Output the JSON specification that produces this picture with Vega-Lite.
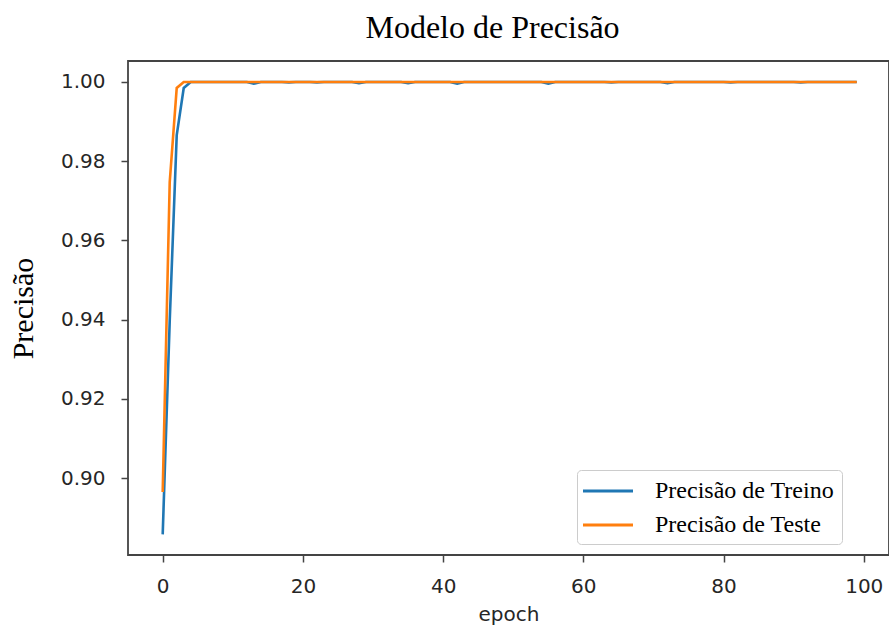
{
  "$schema": "https://vega.github.io/schema/vega-lite/v6.json",
  "width": 761,
  "height": 494,
  "autosize": {"type": "none"},
  "padding": {"left": 128, "top": 61, "right": 0, "bottom": 75},
  "background": "white",
  "title": {
    "text": "Modelo de Precisão",
    "font": "Liberation Serif",
    "fontSize": 32,
    "fontWeight": "normal",
    "color": "black",
    "anchor": "middle",
    "dx": -16,
    "offset": 16
  },
  "config": {
    "view": {"stroke": "#444", "strokeWidth": 1.8},
    "axis": {
      "grid": false,
      "domain": false,
      "tickColor": "#444",
      "tickSize": 7,
      "tickWidth": 1.5,
      "labelFont": "DejaVu Sans",
      "labelFontSize": 20,
      "labelColor": "#262626",
      "titleColor": "#262626"
    }
  },
  "data": {
    "values": [
      {"epoch": 0, "train": 0.8858, "test": 0.8965},
      {"epoch": 1, "train": 0.9396, "test": 0.9747},
      {"epoch": 2, "train": 0.9866, "test": 0.9985},
      {"epoch": 3, "train": 0.9985, "test": 1.0},
      {"epoch": 4, "train": 1.0, "test": 1.0},
      {"epoch": 5, "train": 1.0, "test": 1.0},
      {"epoch": 6, "train": 1.0, "test": 1.0},
      {"epoch": 7, "train": 1.0, "test": 1.0},
      {"epoch": 8, "train": 1.0, "test": 1.0},
      {"epoch": 9, "train": 1.0, "test": 1.0},
      {"epoch": 10, "train": 1.0, "test": 1.0},
      {"epoch": 11, "train": 1.0, "test": 1.0},
      {"epoch": 12, "train": 1.0, "test": 1.0},
      {"epoch": 13, "train": 0.9996, "test": 1.0},
      {"epoch": 14, "train": 1.0, "test": 1.0},
      {"epoch": 15, "train": 1.0, "test": 1.0},
      {"epoch": 16, "train": 1.0, "test": 1.0},
      {"epoch": 17, "train": 1.0, "test": 1.0},
      {"epoch": 18, "train": 0.9999, "test": 1.0},
      {"epoch": 19, "train": 1.0, "test": 1.0},
      {"epoch": 20, "train": 1.0, "test": 1.0},
      {"epoch": 21, "train": 1.0, "test": 1.0},
      {"epoch": 22, "train": 0.9999, "test": 1.0},
      {"epoch": 23, "train": 1.0, "test": 1.0},
      {"epoch": 24, "train": 1.0, "test": 1.0},
      {"epoch": 25, "train": 1.0, "test": 1.0},
      {"epoch": 26, "train": 1.0, "test": 1.0},
      {"epoch": 27, "train": 1.0, "test": 1.0},
      {"epoch": 28, "train": 0.9997, "test": 1.0},
      {"epoch": 29, "train": 1.0, "test": 1.0},
      {"epoch": 30, "train": 1.0, "test": 1.0},
      {"epoch": 31, "train": 1.0, "test": 1.0},
      {"epoch": 32, "train": 1.0, "test": 1.0},
      {"epoch": 33, "train": 1.0, "test": 1.0},
      {"epoch": 34, "train": 1.0, "test": 1.0},
      {"epoch": 35, "train": 0.9997, "test": 1.0},
      {"epoch": 36, "train": 1.0, "test": 1.0},
      {"epoch": 37, "train": 1.0, "test": 1.0},
      {"epoch": 38, "train": 1.0, "test": 1.0},
      {"epoch": 39, "train": 1.0, "test": 1.0},
      {"epoch": 40, "train": 1.0, "test": 1.0},
      {"epoch": 41, "train": 1.0, "test": 1.0},
      {"epoch": 42, "train": 0.9996, "test": 1.0},
      {"epoch": 43, "train": 1.0, "test": 1.0},
      {"epoch": 44, "train": 1.0, "test": 1.0},
      {"epoch": 45, "train": 1.0, "test": 1.0},
      {"epoch": 46, "train": 1.0, "test": 1.0},
      {"epoch": 47, "train": 1.0, "test": 1.0},
      {"epoch": 48, "train": 1.0, "test": 1.0},
      {"epoch": 49, "train": 1.0, "test": 1.0},
      {"epoch": 50, "train": 1.0, "test": 1.0},
      {"epoch": 51, "train": 1.0, "test": 1.0},
      {"epoch": 52, "train": 1.0, "test": 1.0},
      {"epoch": 53, "train": 1.0, "test": 1.0},
      {"epoch": 54, "train": 1.0, "test": 1.0},
      {"epoch": 55, "train": 0.9996, "test": 1.0},
      {"epoch": 56, "train": 1.0, "test": 1.0},
      {"epoch": 57, "train": 1.0, "test": 1.0},
      {"epoch": 58, "train": 1.0, "test": 1.0},
      {"epoch": 59, "train": 1.0, "test": 1.0},
      {"epoch": 60, "train": 1.0, "test": 1.0},
      {"epoch": 61, "train": 1.0, "test": 1.0},
      {"epoch": 62, "train": 1.0, "test": 1.0},
      {"epoch": 63, "train": 1.0, "test": 1.0},
      {"epoch": 64, "train": 0.9999, "test": 1.0},
      {"epoch": 65, "train": 1.0, "test": 1.0},
      {"epoch": 66, "train": 1.0, "test": 1.0},
      {"epoch": 67, "train": 1.0, "test": 1.0},
      {"epoch": 68, "train": 1.0, "test": 1.0},
      {"epoch": 69, "train": 1.0, "test": 1.0},
      {"epoch": 70, "train": 1.0, "test": 1.0},
      {"epoch": 71, "train": 1.0, "test": 1.0},
      {"epoch": 72, "train": 0.9997, "test": 1.0},
      {"epoch": 73, "train": 1.0, "test": 1.0},
      {"epoch": 74, "train": 1.0, "test": 1.0},
      {"epoch": 75, "train": 1.0, "test": 1.0},
      {"epoch": 76, "train": 1.0, "test": 1.0},
      {"epoch": 77, "train": 1.0, "test": 1.0},
      {"epoch": 78, "train": 1.0, "test": 1.0},
      {"epoch": 79, "train": 1.0, "test": 1.0},
      {"epoch": 80, "train": 1.0, "test": 1.0},
      {"epoch": 81, "train": 0.9999, "test": 1.0},
      {"epoch": 82, "train": 1.0, "test": 1.0},
      {"epoch": 83, "train": 1.0, "test": 1.0},
      {"epoch": 84, "train": 1.0, "test": 1.0},
      {"epoch": 85, "train": 1.0, "test": 1.0},
      {"epoch": 86, "train": 1.0, "test": 1.0},
      {"epoch": 87, "train": 1.0, "test": 1.0},
      {"epoch": 88, "train": 1.0, "test": 1.0},
      {"epoch": 89, "train": 1.0, "test": 1.0},
      {"epoch": 90, "train": 1.0, "test": 1.0},
      {"epoch": 91, "train": 0.9999, "test": 1.0},
      {"epoch": 92, "train": 1.0, "test": 1.0},
      {"epoch": 93, "train": 1.0, "test": 1.0},
      {"epoch": 94, "train": 1.0, "test": 1.0},
      {"epoch": 95, "train": 1.0, "test": 1.0},
      {"epoch": 96, "train": 1.0, "test": 1.0},
      {"epoch": 97, "train": 1.0, "test": 1.0},
      {"epoch": 98, "train": 1.0, "test": 1.0},
      {"epoch": 99, "train": 1.0, "test": 1.0}
    ]
  },
  "transform": [
    {"fold": ["train", "test"], "as": ["serie", "precisao"]}
  ],
  "mark": {"type": "line", "strokeWidth": 2.6, "clip": true},
  "encoding": {
    "x": {
      "field": "epoch",
      "type": "quantitative",
      "scale": {"domain": [-4.95, 103.6], "nice": false, "zero": false},
      "axis": {
        "values": [0, 20, 40, 60, 80, 100],
        "title": "epoch",
        "titleFont": "DejaVu Sans",
        "titleFontSize": 20,
        "titleFontWeight": "normal",
        "titlePadding": 8,
        "labelPadding": 14
      }
    },
    "y": {
      "field": "precisao",
      "type": "quantitative",
      "scale": {"domain": [0.8806, 1.0053], "nice": false, "zero": false},
      "axis": {
        "values": [0.9, 0.92, 0.94, 0.96, 0.98, 1.0],
        "format": ".2f",
        "title": "Precisão",
        "titleFont": "Liberation Serif",
        "titleFontSize": 30,
        "titleFontWeight": "normal",
        "titleColor": "black",
        "titlePadding": 22,
        "labelPadding": 16
      }
    },
    "color": {
      "field": "serie",
      "type": "nominal",
      "sort": ["train", "test"],
      "scale": {"domain": ["train", "test"], "range": ["#1f77b4", "#ff7f0e"]},
      "legend": {
        "orient": "none",
        "legendX": 449,
        "legendY": 409,
        "title": null,
        "labelExpr": "datum.value == 'train' ? 'Precisão de Treino' : 'Precisão de Teste'",
        "labelFont": "Liberation Serif",
        "labelFontSize": 24,
        "labelColor": "black",
        "labelOffset": 33,
        "labelLimit": 400,
        "symbolType": "M-2,0H2",
        "symbolSize": 625,
        "symbolOffset": 10,
        "symbolStrokeWidth": 3,
        "rowPadding": 8,
        "padding": 7,
        "fillColor": "white",
        "strokeColor": "#cccccc",
        "cornerRadius": 4
      }
    }
  }
}
